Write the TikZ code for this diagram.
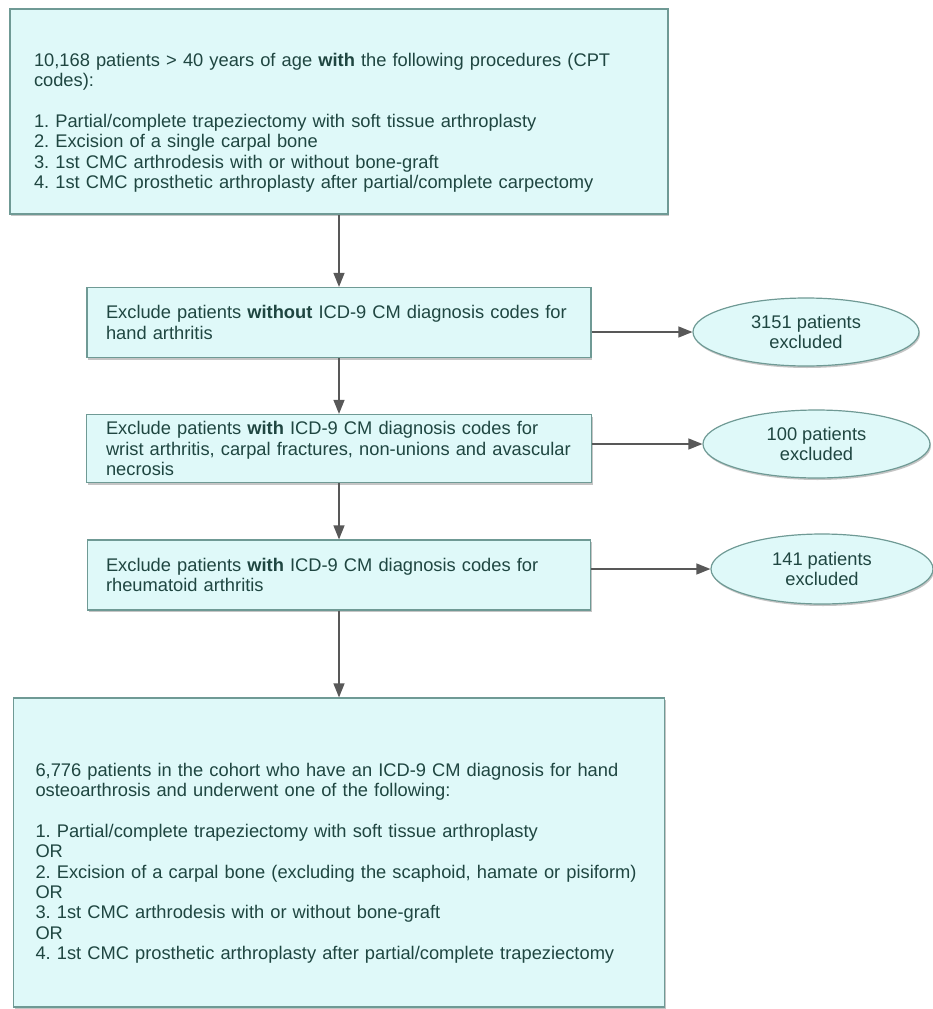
\documentclass[tikz,border=0pt]{standalone}
\usepackage{fontspec}
\setmainfont{Liberation Sans}
\frenchspacing
\usetikzlibrary{shapes.geometric,arrows.meta,shadows}
\definecolor{boxfill}{HTML}{DFF9F9}
\definecolor{boxline}{HTML}{6F9A95}
\definecolor{boxtext}{HTML}{1F4641}
\definecolor{arrowgray}{HTML}{585858}
\begin{document}
\begin{tikzpicture}[x=1pt,y=-1pt,
    box/.style={draw=boxline,line width=1.2pt,fill=boxfill,text=boxtext,align=left,
      font=\fontsize{18.3}{20.4}\selectfont,inner sep=0pt,
      drop shadow={shadow xshift=1pt,shadow yshift=-2pt,fill=black!45,opacity=.5}},
    outbox/.style={box,ellipse,align=center},
    arr/.style={draw=arrowgray,line width=1.3pt,-{Triangle[length=14pt,width=11pt]}}]
  \useasboundingbox (0,0) rectangle (932,1009);
  % boxes
  \node[box,minimum width=658pt,minimum height=205pt,text width=610pt] (start) at (339,111.5)
    {\rule{0pt}{35.5pt}10,168 patients > 40 years of age \textbf{with} the following procedures (CPT\\
     codes):\\[20.4pt]
     1. Partial/complete trapeziectomy with soft tissue arthroplasty\\
     2. Excision of a single carpal bone\\
     3. 1st CMC arthrodesis with or without bone-graft\\
     4. 1st CMC prosthetic arthroplasty after partial/complete carpectomy};
  \node[box,minimum width=504pt,minimum height=70pt,text width=466pt] (handoa) at (339,322.5)
    {Exclude patients \textbf{without} ICD-9 CM diagnosis codes for\\ hand arthritis};
  \node[box,minimum width=505pt,minimum height=68pt,text width=466pt] (wrist) at (339,448.5)
    {Exclude patients \textbf{with} ICD-9 CM diagnosis codes for\\
     wrist arthritis, carpal fractures, non-unions and avascular\\ necrosis};
  \node[box,minimum width=503pt,minimum height=70pt,text width=466pt] (rheum) at (339,575)
    {Exclude patients \textbf{with} ICD-9 CM diagnosis codes for\\ rheumatoid arthritis};
  \node[box,minimum width=651pt,minimum height=309pt,text width=607pt] (cohort) at (339,852.5)
    {\rule{0pt}{34.5pt}6,776 patients in the cohort who have an ICD-9 CM diagnosis for hand\\
     osteoarthrosis and underwent one of the following:\\[20.4pt]
     1. Partial/complete trapeziectomy with soft tissue arthroplasty\\
     OR\\
     2. Excision of a carpal bone (excluding the scaphoid, hamate or pisiform)\\
     OR\\
     3. 1st CMC arthrodesis with or without bone-graft\\
     OR\\
     4. 1st CMC prosthetic arthroplasty after partial/complete trapeziectomy};
  % excluded
  \node[outbox,minimum width=226pt,minimum height=68pt] (outhand) at (806,332) {3151 patients\\excluded};
  \node[outbox,minimum width=227pt,minimum height=68pt] (outwrist) at (816.5,444) {100 patients\\excluded};
  \node[outbox,minimum width=222pt,minimum height=70pt] (outrheum) at (822,569) {141 patients\\excluded};
  % arrows
  \draw[arr] (start) -- (handoa);
  \draw[arr] (handoa) -- (wrist);
  \draw[arr] (wrist) -- (rheum);
  \draw[arr] (rheum) -- (cohort);
  \draw[arr] (handoa.east |- outhand) -- (outhand);
  \draw[arr] (wrist.east |- outwrist) -- (outwrist);
  \draw[arr] (rheum.east |- outrheum) -- (outrheum);
\end{tikzpicture}
\end{document}
